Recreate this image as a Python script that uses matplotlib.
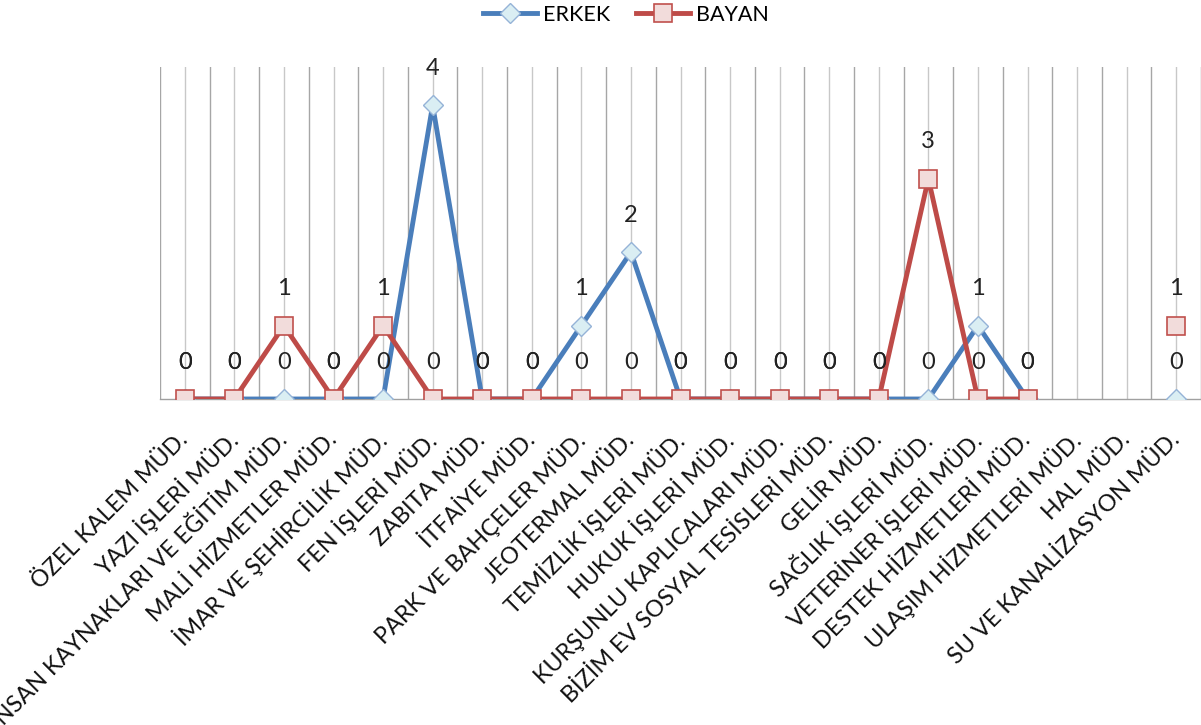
import numpy as np
import matplotlib
matplotlib.use("Agg")
import matplotlib.pyplot as plt
from matplotlib.ticker import FixedLocator

categories = ["ÖZEL KALEM MÜD.", "YAZI İŞLERİ MÜD.", "İNSAN KAYNAKLARI VE EĞİTİM MÜD.",
              "MALİ HİZMETLER MÜD.", "İMAR VE ŞEHİRCİLİK MÜD.", "FEN İŞLERİ MÜD.",
              "ZABITA MÜD.", "İTFAİYE MÜD.", "PARK VE BAHÇELER MÜD.", "JEOTERMAL MÜD.",
              "TEMİZLİK İŞLERİ MÜD.", "HUKUK İŞLERİ MÜD.", "KURŞUNLU KAPLICALARI MÜD.",
              "BİZİM EV SOSYAL TESİSLERİ MÜD.", "GELİR MÜD.", "SAĞLIK İŞLERİ MÜD.",
              "VETERİNER İŞLERİ MÜD.", "DESTEK HİZMETLERİ MÜD.", "ULAŞIM HİZMETLERİ MÜD.",
              "HAL MÜD.", "SU VE KANALİZASYON MÜD."]
erkek = [0, 0, 0, 0, 0, 4, 0, 0, 1, 2, 0, 0, 0, 0, 0, 0, 1, 0, np.nan, np.nan, 0]
bayan = [0, 0, 1, 0, 1, 0, 0, 0, 0, 0, 0, 0, 0, 0, 0, 3, 0, 0, np.nan, np.nan, 1]

plt.rcParams['font.family'] = ['Lato', 'DejaVu Sans']

fig = plt.figure(figsize=(12.01, 7.25), dpi=100)
ax = fig.add_axes([160/1201, 1 - 399/725, 1 - 160/1201, (399 - 67)/725])

x = np.arange(len(categories))
blue = "#4A7EBB"
red = "#BE4B48"
l1, = ax.plot(x, erkek, color=blue, lw=3.5, marker='D', markersize=10.5,
              markerfacecolor="#DAEEF3", markeredgecolor="#95B3D7", markeredgewidth=1.0,
              label="ERKEK", zorder=3)
l2, = ax.plot(x, bayan, color=red, lw=3.5, marker='s', markersize=13,
              markerfacecolor="#F2DCDB", markeredgecolor="#C0504D", markeredgewidth=1.2,
              label="BAYAN", zorder=4)

for series in (erkek, bayan):
    for xi, v in zip(x, series):
        if np.isnan(v):
            continue
        ax.annotate(f"{int(v)}", (xi, v), xytext=(0, 26.5), textcoords='offset points',
                    ha='center', va='center', fontsize=17, color='#222222', zorder=5)

ax.set_xlim(-0.5, len(categories) - 0.5)
ax.set_ylim(0, 4.52)
ax.set_yticks([])
ax.set_xticks(x)
ax.set_xticklabels(categories, rotation=45, ha='right', va='center',
                   rotation_mode='anchor', fontsize=16.8, color='#111111')
ax.tick_params(axis='x', length=0, pad=27)
ax.xaxis.set_minor_locator(FixedLocator(np.arange(-0.5, len(categories), 1.0)))
ax.tick_params(axis='x', which='minor', length=0)
ax.grid(True, axis='x', which='major', color='#C8C8C8', lw=1.0, zorder=0)
ax.grid(True, axis='x', which='minor', color='#A6A6A6', lw=1.0, zorder=0)
for s in ['top', 'right', 'left']:
    ax.spines[s].set_visible(False)
ax.spines['bottom'].set_color('#A0A0A0')
ax.spines['bottom'].set_linewidth(1.0)

fig.legend(handles=[l1, l2], loc='center', bbox_to_anchor=(626/1201, 1 - 15/725),
           ncol=2, frameon=False, fontsize=15.5, handlelength=2.5, columnspacing=1.2,
           handletextpad=0.3)

fig.savefig("out.png", dpi=100)
